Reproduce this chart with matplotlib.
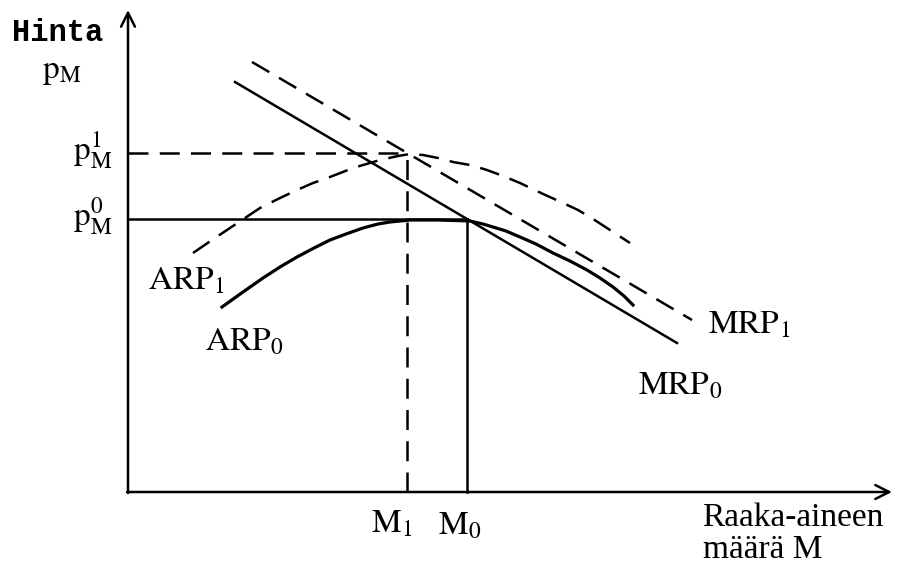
import numpy as np
import matplotlib
matplotlib.use("Agg")
from matplotlib import pyplot as plt

plt.rcParams['mathtext.fontset'] = 'stix'
plt.rcParams['font.family'] = ['Liberation Serif', 'DejaVu Serif']

# curves (origin = axis corner)
mrp0_x = [107, 549]
mrp0_y = [410, 149]
mrp1_x = [124, 564]
mrp1_y = [430, 172]

arp0_x = [94, 115, 135, 152, 169, 186, 202, 218, 235, 250, 262, 272, 282, 310, 342, 355, 365, 378, 392, 408, 425, 442, 459, 472, 485, 496, 505]
arp0_y = [185, 200, 214, 225, 235, 244, 252, 258, 264, 268, 270, 271, 272, 272, 271, 268, 265, 261, 255, 248, 239, 231, 222, 214, 205, 196, 187]

arp1_x = [65, 84, 102, 117, 132, 150, 169, 185, 202, 225, 252, 270, 282, 295, 310, 325, 342, 359, 375, 392, 413, 435, 450, 462, 482, 502]
arp1_y = [239, 252, 264, 274, 284, 293, 302, 309, 315, 324, 332, 336, 338, 337, 334, 330, 327, 322, 316, 309, 299, 289, 282, 275, 262, 249]

p0 = 273
p1 = 339
M1 = 279
M0 = 339

fig = plt.figure(figsize=(8.98, 5.67), dpi=100)
ax = fig.add_axes([0, 0, 1, 1])
ax.set_xlim(-128, 770)
ax.set_ylim(-75, 492)
ax.axis('off')

lw = 1.8
dash = (0, (8, 4.5))

# axes with open arrow heads
ax.annotate('', xy=(0, 482), xytext=(0, -1),
            arrowprops=dict(arrowstyle='->', lw=lw, color='k', mutation_scale=25, shrinkA=0, shrinkB=0))
ax.annotate('', xy=(764, 0), xytext=(-1, 0),
            arrowprops=dict(arrowstyle='->', lw=lw, color='k', mutation_scale=25, shrinkA=0, shrinkB=0))

# guide lines
ax.plot([0, M0], [p0, p0], color='k', lw=lw)
ax.plot([M0, M0], [0, p0], color='k', lw=lw)
ax.plot([0, M1], [p1, p1], color='k', lw=lw, linestyle=dash)
ax.plot([M1, M1], [0, p1], color='k', lw=lw, linestyle=dash)

# curves
ax.plot(mrp0_x, mrp0_y, color='k', lw=lw)
ax.plot(mrp1_x, mrp1_y, color='k', lw=lw, linestyle=dash)
ax.plot(arp0_x, arp0_y, color='k', lw=2.3, solid_joinstyle='round')
ax.plot(arp1_x, arp1_y, color='k', lw=lw, linestyle=dash)

fs = 24
ax.text(-116, 459, 'Hinta', family='Liberation Mono', fontweight='bold', fontsize=22, va='center', ha='left')
ax.text(-66, 420, r'$\mathrm{p}_\mathrm{M}$', fontsize=fs, va='center', ha='center')
ax.text(-16, 342, r'$\mathrm{p}_\mathrm{M}^1$', fontsize=fs, va='center', ha='right')
ax.text(-16, 276, r'$\mathrm{p}_\mathrm{M}^0$', fontsize=fs, va='center', ha='right')
ax.text(58, 211, r'$\mathrm{ARP}_1$', fontsize=fs, va='center', ha='center')
ax.text(116, 150, r'$\mathrm{ARP}_0$', fontsize=fs, va='center', ha='center')
ax.text(621, 167, r'$\mathrm{MRP}_1$', fontsize=fs, va='center', ha='center')
ax.text(552, 106, r'$\mathrm{MRP}_0$', fontsize=fs, va='center', ha='center')
ax.text(264, -32, r'$\mathrm{M}_1$', fontsize=fs, va='center', ha='center')
ax.text(332, -34, r'$\mathrm{M}_0$', fontsize=fs, va='center', ha='center')
ax.text(574, -26, 'Raaka-aineen', fontsize=fs, va='center', ha='left')
ax.text(575, -58, 'määrä M', fontsize=fs, va='center', ha='left')

fig.savefig('out.png', dpi=100)
